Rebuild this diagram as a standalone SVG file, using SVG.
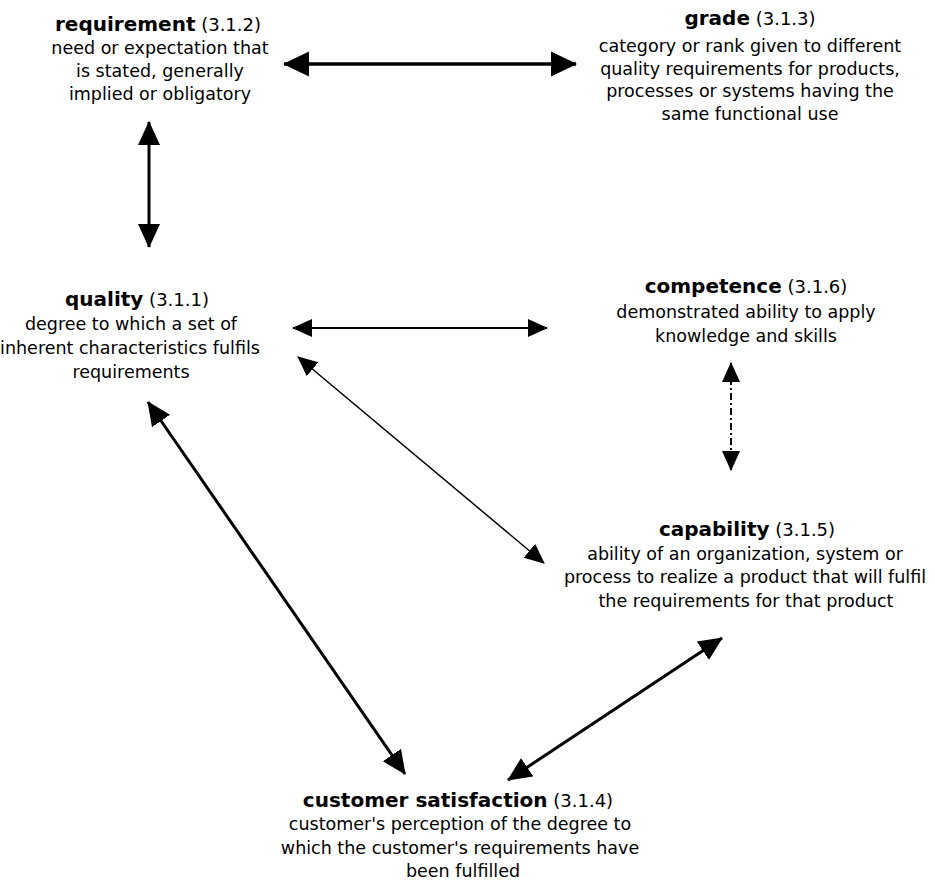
<svg xmlns="http://www.w3.org/2000/svg" width="935" height="882" viewBox="0 0 935 882">
<defs>
<style>
text{font-family:"DejaVu Sans","Liberation Sans",sans-serif;fill:#000;text-anchor:middle}
.t{font-size:20px;font-weight:bold}
.r{font-size:18px;font-weight:normal}
.b{font-size:17.5px}
.c{stroke:#000;fill:none}
</style>
<marker id="hL" markerUnits="userSpaceOnUse" viewBox="0 0 26 26" markerWidth="26" markerHeight="26" refX="25" refY="13" orient="auto-start-reverse"><path d="M0,0.5 L26,13 L0,25.5 z" fill="#000"/></marker>
<marker id="hM" markerUnits="userSpaceOnUse" viewBox="0 0 24 24" markerWidth="24" markerHeight="24" refX="23" refY="12" orient="auto-start-reverse"><path d="M0,1 L24,12 L0,23 z" fill="#000"/></marker>
<marker id="hS" markerUnits="userSpaceOnUse" viewBox="0 0 20 20" markerWidth="20" markerHeight="20" refX="19" refY="10" orient="auto-start-reverse"><path d="M0,1 L20,10 L0,19 z" fill="#000"/></marker>
</defs>
<rect width="935" height="882" fill="#fff"/>
<g id="connectors">
<line class="c" x1="284" y1="64" x2="576" y2="64" stroke-width="3.5" marker-start="url(#hL)" marker-end="url(#hL)"/>
<line class="c" x1="149" y1="122" x2="149" y2="247" stroke-width="3" marker-start="url(#hM)" marker-end="url(#hM)"/>
<line class="c" x1="293" y1="328" x2="547" y2="328" stroke-width="2" marker-start="url(#hS)" marker-end="url(#hS)"/>
<line class="c" x1="298" y1="357" x2="544" y2="563" stroke-width="1.5" marker-start="url(#hS)" marker-end="url(#hS)"/>
<line class="c" x1="148" y1="402" x2="405" y2="774" stroke-width="3" marker-start="url(#hM)" marker-end="url(#hM)"/>
<line class="c" x1="722" y1="638" x2="508" y2="780" stroke-width="3" marker-start="url(#hM)" marker-end="url(#hM)"/>
<line class="c" x1="731" y1="363" x2="731" y2="470" stroke-width="2" stroke-dasharray="7,3,2,3" marker-start="url(#hS)" marker-end="url(#hS)"/>
</g>
<g id="requirement">
<text x="158" y="31"><tspan class="t">requirement</tspan><tspan class="r"> (3.1.2)</tspan></text>
<text class="b" x="160" y="54">need or expectation that</text>
<text class="b" x="160" y="77">is stated, generally</text>
<text class="b" x="160" y="100">implied or obligatory</text>
</g>
<g id="grade">
<text x="750" y="25"><tspan class="t">grade</tspan><tspan class="r"> (3.1.3)</tspan></text>
<text class="b" x="750" y="52">category or rank given to different</text>
<text class="b" x="750" y="75">quality requirements for products,</text>
<text class="b" x="750" y="97">processes or systems having the</text>
<text class="b" x="750" y="120">same functional use</text>
</g>
<g id="quality">
<text x="137" y="306"><tspan class="t">quality</tspan><tspan class="r"> (3.1.1)</tspan></text>
<text class="b" x="131" y="330">degree to which a set of</text>
<text class="b" x="130" y="354">inherent characteristics fulfils</text>
<text class="b" x="131" y="378">requirements</text>
</g>
<g id="competence">
<text x="746" y="293"><tspan class="t">competence</tspan><tspan class="r"> (3.1.6)</tspan></text>
<text class="b" x="746" y="318">demonstrated ability to apply</text>
<text class="b" x="746" y="342">knowledge and skills</text>
</g>
<g id="capability">
<text x="747" y="536"><tspan class="t">capability</tspan><tspan class="r"> (3.1.5)</tspan></text>
<text class="b" x="745" y="560">ability of an organization, system or</text>
<text class="b" x="745" y="583">process to realize a product that will fulfil</text>
<text class="b" x="746" y="607">the requirements for that product</text>
</g>
<g id="customer-satisfaction">
<text x="458" y="807"><tspan class="t">customer satisfaction</tspan><tspan class="r"> (3.1.4)</tspan></text>
<text class="b" x="460" y="830">customer's perception of the degree to</text>
<text class="b" x="460" y="854">which the customer's requirements have</text>
<text class="b" x="463" y="877">been fulfilled</text>
</g>
</svg>
